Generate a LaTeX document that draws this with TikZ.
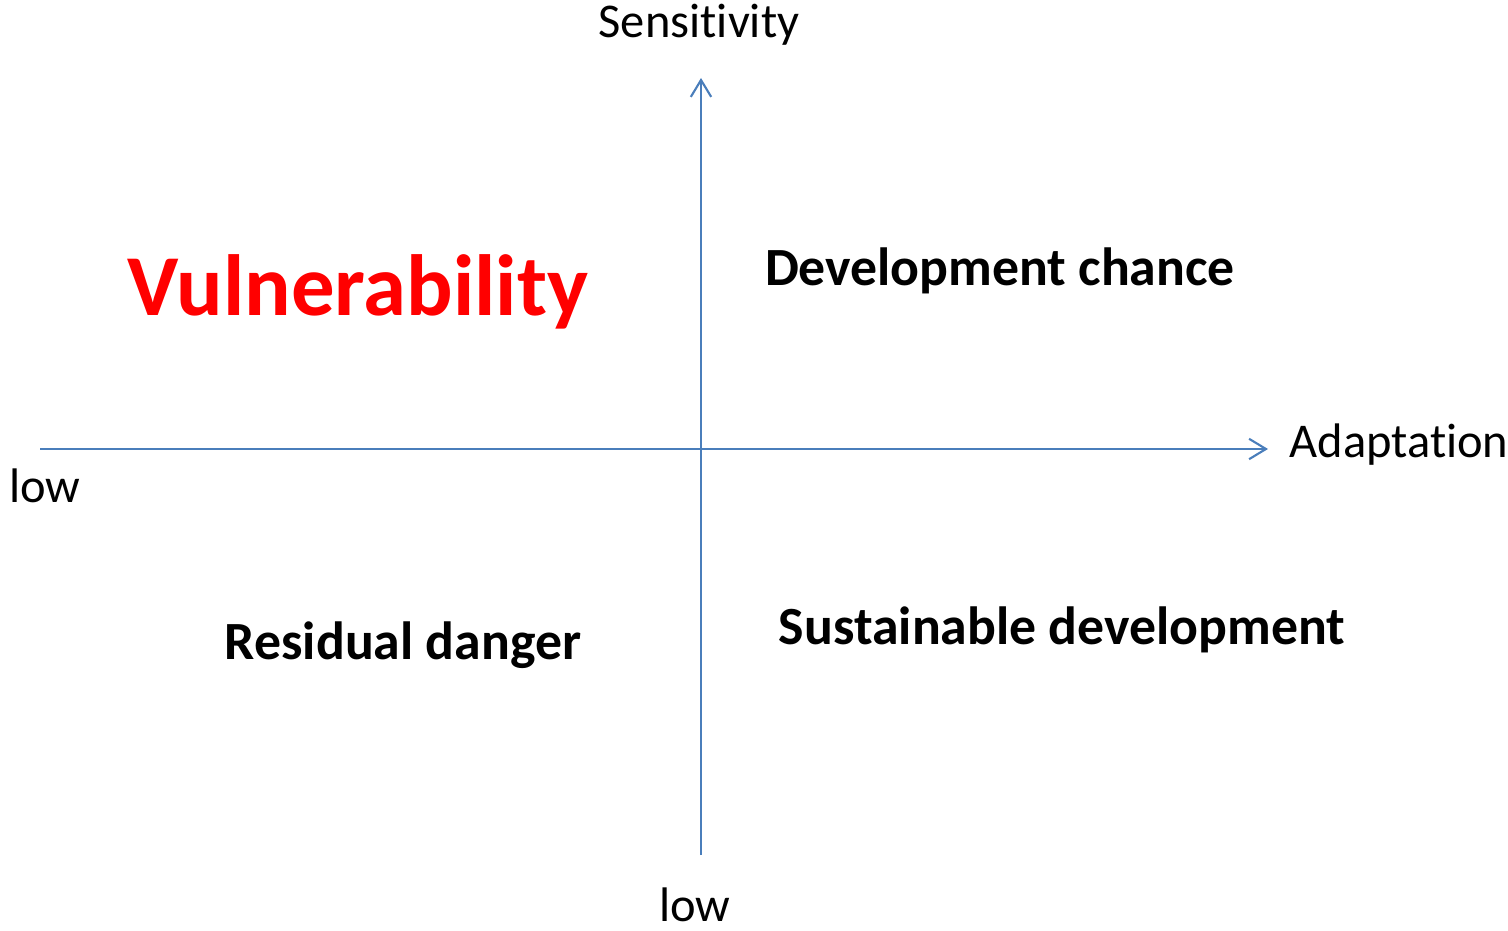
\documentclass[tikz,border=0pt]{standalone}
\usepackage{fontspec}
\setmainfont[Ligatures=NoCommon]{Carlito}
\usetikzlibrary{arrows.meta}
\definecolor{axisblue}{HTML}{4A7EBB}
\begin{document}
\begin{tikzpicture}[
        axis/.style={draw=axisblue, line width=0.6pt, -{Straight Barb[length=4.8pt,width=5.8pt]}},
        axislabel/.style={font=\fontsize{13.8}{16}\selectfont, inner sep=0pt},
        quadrant/.style={font=\fontsize{15.3}{18}\selectfont\bfseries, inner sep=0pt}
    ]
    \useasboundingbox (0,0) rectangle (15.08,9.30);
    \node[axislabel] at (6.99,9.05) (Sens) {Sensitivity};
    \node[axislabel] at (13.99,4.85) (Adapt) {Adaptation};
    \node[axislabel] at (0.45,4.44) (LowX) {low};
    \node[axislabel] at (6.95,0.25) (LowY) {low};
    \coordinate (Xs) at (0.40,4.81);
    \coordinate (Xe) at (12.68,4.81);
    \coordinate (Ys) at (7.01,0.75);
    \coordinate (Ye) at (7.01,8.52);
    \draw[axis] (Xs) -- (Xe);
    \draw[axis] (Ys) -- (Ye);
    \node[quadrant, text=red, font=\fontsize{24.7}{29}\selectfont\bfseries] at (3.58,6.38) (Vuln) {Vulnerability};
    \node[quadrant] at (10.00,6.59) (DevC) {Development chance};
    \node[quadrant] at (10.62,3.00) (Sust) {Sustainable development};
    \node[quadrant] at (4.03,2.85) (Resid) {Residual danger};
\end{tikzpicture}
\end{document}
